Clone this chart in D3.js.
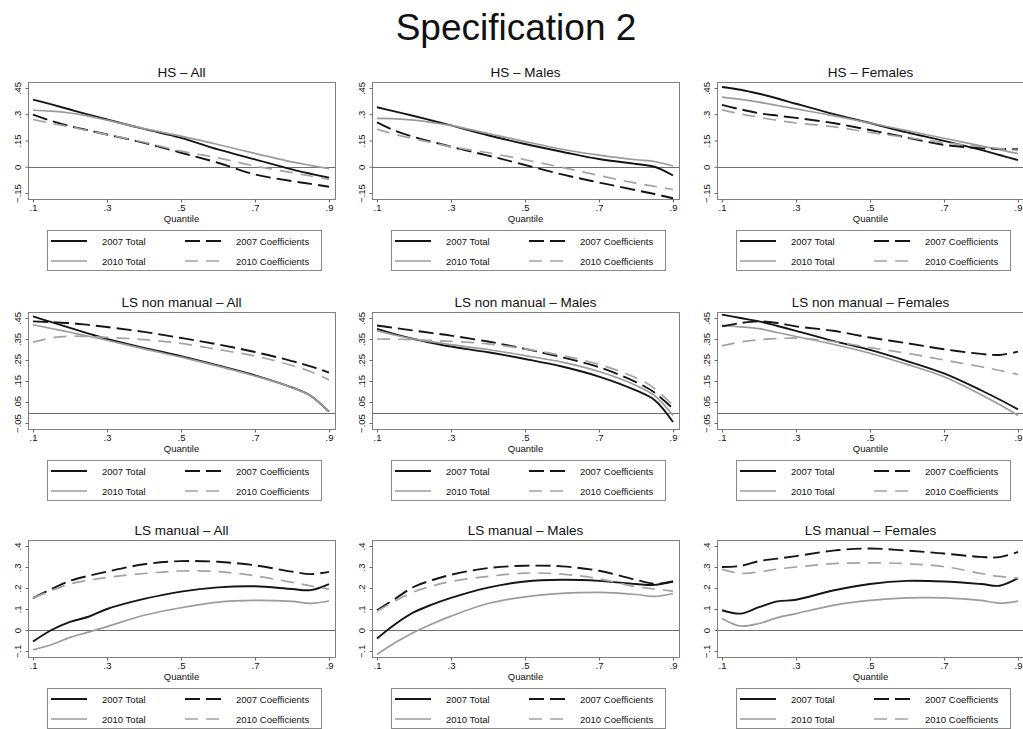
<!DOCTYPE html>
<html>
<head>
<meta charset="utf-8">
<script src="https://cdn.jsdelivr.net/npm/d3@7"></script>
<style>
  body { margin: 0; background: #fff; }
  text { font-family: "Liberation Sans", Arial, sans-serif; fill: #111; }
</style>
</head>
<body>
<div id="chart"></div>
<script>
var quantiles = [.1, .15, .2, .25, .3, .4, .5, .6, .7, .8, .85, .9];
var xTicks = [.1, .3, .5, .7, .9];

var yTicksHS = [-.15, 0, .15, .3, .45];
var yTicksNonManual = [-.05, .05, .15, .25, .35, .45];
var yTicksManual = [-.1, 0, .1, .2, .3, .4];

var panelTitles = [
  "HS \u2013 All", "HS \u2013 Males", "HS \u2013 Females",
  "LS non manual \u2013 All", "LS non manual \u2013 Males", "LS non manual \u2013 Females",
  "LS manual \u2013 All", "LS manual \u2013 Males", "LS manual \u2013 Females"
];

var seriesNames = ["2007 Total", "2010 Total", "2007 Coefficients", "2010 Coefficients"];

// HS
var hsAllTotal07 = [.384, .356, .327, .298, .27, .216, .165, .099, .042, -.015, -.04, -.063];
var hsAllTotal10 = [.323, .318, .307, .289, .266, .218, .175, .127, .076, .028, .008, -.011];
var hsAllCoef07 = [.298, .262, .232, .208, .184, .137, .08, .023, -.044, -.082, -.098, -.114];
var hsAllCoef10 = [.27, .248, .228, .206, .184, .14, .089, .051, .004, -.034, -.053, -.072];

var hsMaleTotal07 = [.34, .315, .29, .263, .236, .18, .13, .086, .044, .016, 0, -.05];
var hsMaleTotal10 = [.276, .274, .266, .252, .236, .19, .144, .1, .066, .04, .03, .004];
var hsMaleCoef07 = [.254, .205, .17, .142, .114, .064, .01, -.044, -.09, -.134, -.156, -.18];
var hsMaleCoef10 = [.214, .185, .16, .137, .114, .08, .04, -.004, -.05, -.094, -.112, -.13];

var hsFemaleTotal07 = [.456, .44, .417, .39, .36, .302, .25, .196, .148, .096, .067, .038];
var hsFemaleTotal10 = [.398, .385, .369, .35, .331, .292, .25, .206, .163, .119, .097, .075];
var hsFemaleCoef07 = [.354, .328, .306, .292, .279, .25, .21, .167, .125, .106, .102, .1];
var hsFemaleCoef10 = [.325, .302, .283, .265, .25, .229, .196, .167, .138, .115, .104, .094];

// LS non manual
var nmAllTotal07 = [.458, .43, .403, .376, .35, .308, .268, .224, .177, .119, .08, .004];
var nmAllTotal10 = [.418, .4, .382, .363, .344, .303, .264, .221, .174, .119, .08, .004];
var nmAllCoef07 = [.434, .43, .426, .417, .407, .384, .355, .324, .288, .245, .22, .19];
var nmAllCoef10 = [.335, .355, .363, .362, .358, .347, .329, .3, .269, .224, .195, .155];

var nmMaleTotal07 = [.398, .372, .35, .331, .314, .287, .255, .219, .171, .105, .06, -.045];
var nmMaleTotal10 = [.39, .368, .35, .336, .323, .3, .271, .24, .195, .129, .08, -.014];
var nmMaleCoef07 = [.414, .402, .39, .378, .366, .338, .303, .263, .216, .145, .095, .018];
var nmMaleCoef10 = [.35, .349, .347, .343, .339, .327, .303, .271, .229, .165, .115, .034];

var nmFemaleTotal07 = [.466, .45, .434, .412, .389, .341, .298, .245, .186, .106, .062, .015];
var nmFemaleTotal10 = [.415, .408, .399, .381, .362, .325, .282, .229, .17, .085, .038, -.014];
var nmFemaleCoef07 = [.41, .426, .434, .426, .41, .389, .357, .33, .301, .279, .274, .29];
var nmFemaleCoef10 = [.317, .336, .346, .352, .354, .338, .309, .282, .25, .218, .2, .181];

// LS manual
var mAllTotal07 = [-.055, 0, .039, .063, .1, .148, .183, .203, .208, .195, .19, .219];
var mAllTotal10 = [-.094, -.07, -.035, -.01, .016, .07, .106, .133, .141, .136, .127, .138];
var mAllCoef07 = [.152, .195, .234, .258, .278, .313, .328, .325, .308, .278, .266, .277];
var mAllCoef10 = [.152, .188, .219, .237, .25, .269, .281, .278, .258, .227, .21, .195];

var mMaleTotal07 = [-.04, .029, .085, .122, .153, .202, .231, .239, .234, .219, .215, .231];
var mMaleTotal10 = [-.116, -.06, -.011, .03, .066, .126, .158, .174, .179, .169, .16, .174];
var mMaleCoef07 = [.094, .15, .206, .238, .263, .295, .306, .303, .282, .239, .22, .231];
var mMaleCoef10 = [.089, .139, .182, .21, .231, .255, .271, .266, .244, .206, .195, .185];

var mFemaleTotal07 = [.094, .078, .109, .136, .144, .188, .219, .234, .231, .219, .211, .247];
var mFemaleTotal10 = [.055, .019, .031, .059, .078, .117, .141, .153, .153, .141, .128, .138];
var mFemaleCoef07 = [.3, .305, .328, .34, .352, .378, .388, .378, .364, .348, .347, .372];
var mFemaleCoef10 = [.289, .27, .277, .29, .3, .316, .32, .316, .302, .269, .255, .247];

var panelSeries = [
  [hsAllTotal07, hsAllTotal10, hsAllCoef07, hsAllCoef10],
  [hsMaleTotal07, hsMaleTotal10, hsMaleCoef07, hsMaleCoef10],
  [hsFemaleTotal07, hsFemaleTotal10, hsFemaleCoef07, hsFemaleCoef10],
  [nmAllTotal07, nmAllTotal10, nmAllCoef07, nmAllCoef10],
  [nmMaleTotal07, nmMaleTotal10, nmMaleCoef07, nmMaleCoef10],
  [nmFemaleTotal07, nmFemaleTotal10, nmFemaleCoef07, nmFemaleCoef10],
  [mAllTotal07, mAllTotal10, mAllCoef07, mAllCoef10],
  [mMaleTotal07, mMaleTotal10, mMaleCoef07, mMaleCoef10],
  [mFemaleTotal07, mFemaleTotal10, mFemaleCoef07, mFemaleCoef10]
];
var rowTicks = [yTicksHS, yTicksNonManual, yTicksManual];

// styles of the four series
var styles = [
  { color: '#151515', dash: null, width: 1.9 },
  { color: '#9b9b9b', dash: null, width: 1.7 },
  { color: '#151515', dash: '15,6', width: 1.9 },
  { color: '#a3a3a3', dash: '13,8', width: 1.7 }
];

var width = 1023, height = 729,
  frameW = 307, frameH = 117,
  colLeft = [28, 372, 717],
  rowTop = [82, 312, 540];

// Stata style numbers: ".45", "-.15"
function fmt(v) {
  if (v === 0) return "0";
  var s = String(+v.toFixed(2)).replace("0.", ".");
  return s.replace("-", "\u2212");
}

var svg = d3.select('#chart').append('svg')
  .attr('width', width)
  .attr('height', height);

svg.append('rect')
  .attr('width', width)
  .attr('height', height)
  .attr('fill', '#fff');

svg.append('text')
  .attr('x', 516)
  .attr('y', 40)
  .attr('text-anchor', 'middle')
  .style('font-size', '37px')
  .text('Specification 2');

var line = d3.line()
  .curve(d3.curveCatmullRom.alpha(0.5));

panelTitles.forEach(function (title, k) {
  var r = Math.floor(k / 3), c = k % 3;
  var left = colLeft[c], top = rowTop[r], bottom = top + frameH;
  var ticks = rowTicks[r];

  var x = d3.scaleLinear().domain([.1, .9]).range([left + 5, left + 301]);
  var y = d3.scaleLinear().domain(d3.extent(ticks)).range([top + 111, top + 6]);

  var g = svg.append('g').attr('class', 'panel');

  // frame
  g.append('rect')
    .attr('x', left + 0.5)
    .attr('y', top + 0.5)
    .attr('width', frameW)
    .attr('height', frameH)
    .attr('fill', 'none')
    .attr('stroke', '#808080')
    .attr('stroke-width', 1);

  // zero line
  g.append('line')
    .attr('x1', left + 1)
    .attr('x2', left + frameW)
    .attr('y1', Math.round(y(0)) + 0.5)
    .attr('y2', Math.round(y(0)) + 0.5)
    .attr('stroke', '#6e6e6e')
    .attr('stroke-width', 1);

  // series
  panelSeries[k].forEach(function (vals, i) {
    var st = styles[i];
    g.append('path')
      .datum(quantiles.map(function (q, j) { return [x(q), y(vals[j])]; }))
      .attr('fill', 'none')
      .attr('stroke', st.color)
      .attr('stroke-width', st.width)
      .attr('stroke-dasharray', st.dash)
      .attr('d', line);
  });

  // y axis
  var yAxis = d3.axisLeft(y)
    .tickValues(ticks)
    .tickSize(3)
    .tickFormat(fmt);

  g.append('g')
    .attr('transform', 'translate(' + (left + 0.5) + ',0)')
    .call(yAxis)
    .call(s => s.select('.domain').remove())
    .call(s => s.selectAll('.tick line').attr('stroke', '#666'))
    .call(s => s.selectAll('.tick text')
      .attr('transform', 'rotate(-90)')
      .attr('x', 0)
      .attr('y', -8)
      .attr('dy', 0)
      .attr('text-anchor', 'middle')
      .style('font-family', '"Liberation Sans", Arial, sans-serif')
      .style('font-size', '9.5px')
      .attr('fill', '#111'));

  // x axis
  var xAxis = d3.axisBottom(x)
    .tickValues(xTicks)
    .tickSize(3)
    .tickPadding(2)
    .tickFormat(fmt);

  g.append('g')
    .attr('transform', 'translate(0,' + (bottom + 0.5) + ')')
    .call(xAxis)
    .call(s => s.select('.domain').remove())
    .call(s => s.selectAll('.tick line').attr('stroke', '#666'))
    .call(s => s.selectAll('.tick text')
      .style('font-family', '"Liberation Sans", Arial, sans-serif')
      .style('font-size', '9.5px')
      .attr('fill', '#111'));

  g.append('text')
    .attr('x', left + frameW / 2)
    .attr('y', bottom + 23)
    .attr('text-anchor', 'middle')
    .style('font-size', '9.5px')
    .text('Quantile');

  // panel title
  g.append('text')
    .attr('x', left + frameW / 2)
    .attr('y', top - 5)
    .attr('text-anchor', 'middle')
    .style('font-size', '13.5px')
    .text(title);

  // legend
  var lg = g.append('g')
    .attr('transform', 'translate(' + (left + 19) + ',' + (bottom + 31) + ')');

  lg.append('rect')
    .attr('x', 0.5)
    .attr('y', 0.5)
    .attr('width', 274)
    .attr('height', 40)
    .attr('fill', '#fff')
    .attr('stroke', '#8a8a8a');

  seriesNames.forEach(function (name, i) {
    var st = styles[i];
    var cx = i < 2 ? 4 : 138;
    var cy = i % 2 === 0 ? 11 : 31;
    lg.append('line')
      .attr('x1', cx)
      .attr('x2', cx + 36)
      .attr('y1', cy)
      .attr('y2', cy)
      .attr('stroke', st.color)
      .attr('stroke-width', st.width)
      .attr('stroke-dasharray', st.dash);
    lg.append('text')
      .attr('x', cx + 51)
      .attr('y', cy + 3.5)
      .style('font-size', '9.5px')
      .text(name);
  });
});
</script>
</body>
</html>
